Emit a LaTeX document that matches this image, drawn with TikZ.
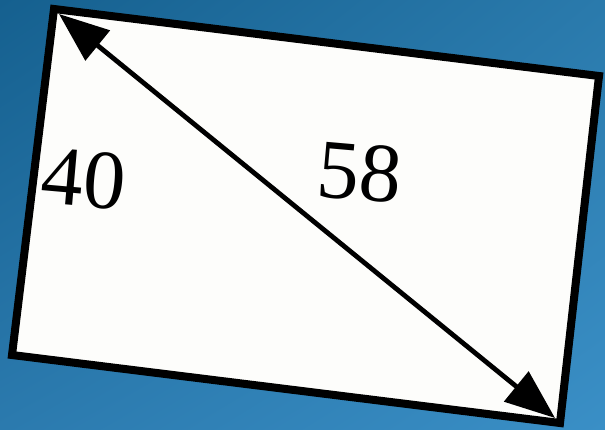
\documentclass[tikz,border=0pt]{standalone}
\usepackage{fontspec}
\setmainfont{Liberation Serif}
\usetikzlibrary{arrows.meta,shadings}
\definecolor{bgUL}{HTML}{15608F}
\definecolor{bgUR}{HTML}{2A7AAC}
\definecolor{bgLL}{HTML}{2B7AAE}
\definecolor{bgLR}{HTML}{3A8FC6}
\definecolor{paper}{HTML}{FDFDFB}
\tikzset{
  frame/.style={draw=black, line width=4pt, fill=paper, line join=miter},
  diag/.style={line width=2.4pt, {Triangle[length=25pt,width=19pt]}-{Triangle[length=25pt,width=19pt]}},
  lbl/.style={font=\fontsize{42pt}{48pt}\selectfont, rotate=-5, inner sep=0pt}
}
\begin{document}
\begin{tikzpicture}[x=0.5pt,y=-0.5pt]
\useasboundingbox (0,0) rectangle (605,429);
\shade[upper left=bgUL, upper right=bgUR, lower left=bgLL, lower right=bgLR] (0,0) rectangle (605,429);
\coordinate (tl) at (54,9);
\coordinate (tr) at (599,76);
\coordinate (br) at (560,423);
\coordinate (bl) at (12,355);
\draw[frame] (tl) -- (tr) -- (br) -- (bl) -- cycle;
\coordinate (a) at (59,14);
\coordinate (b) at (555,418);
\draw[diag] (a) -- (b);
\node[lbl] (l40) at (83.5,179) {40};
\node[lbl] (l58) at (359.5,172.5) {58};
\end{tikzpicture}
\end{document}
